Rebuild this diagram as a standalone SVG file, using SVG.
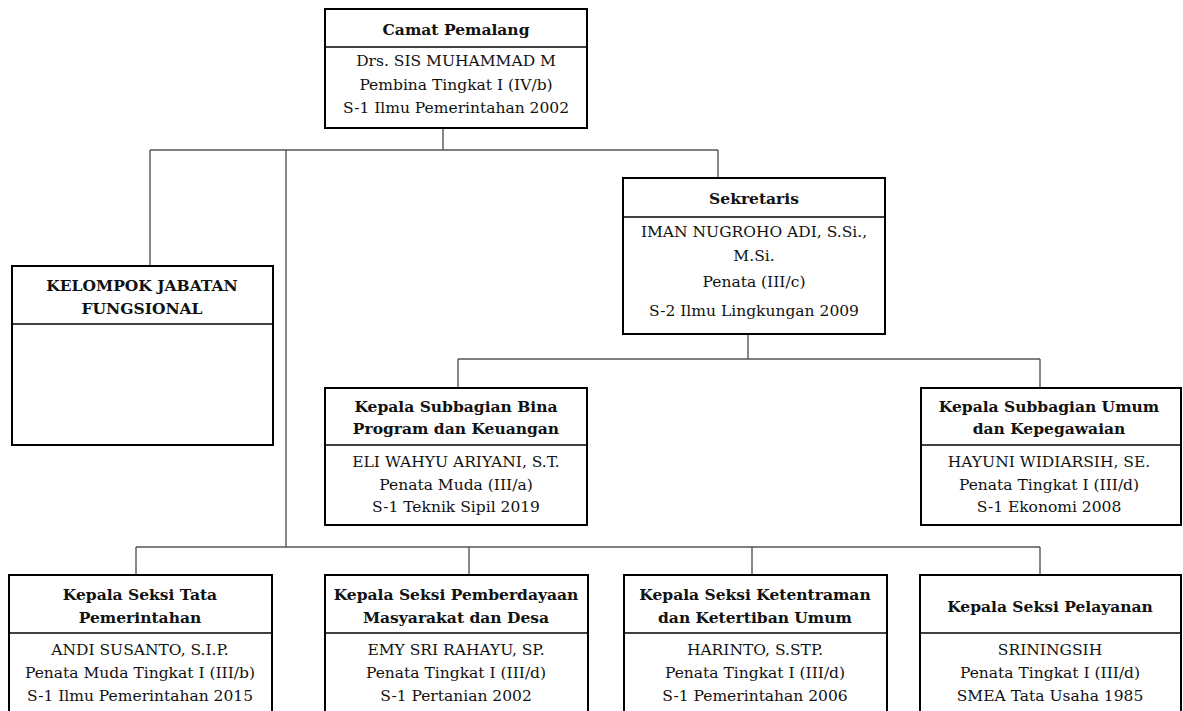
<svg xmlns="http://www.w3.org/2000/svg" width="1183" height="711" viewBox="0 0 1183 711">
<style>
.box{fill:#fff;stroke:#000;stroke-width:2}
.div{stroke:#000;stroke-width:1.5}
.con{fill:none;stroke:#555;stroke-width:1.4}
text{font-family:"DejaVu Serif","Liberation Serif",serif;font-size:15.5px;fill:#111;text-anchor:middle}
.t{font-weight:bold}
</style>
<rect width="1183" height="711" fill="#fff"/>
<g id="connectors">
<path class="con" d="M443,128V150M150,150H718M150,150V266M718,150V178M286,150V547"/>
<path class="con" d="M748,334V359M458,359H1040M458,359V388M1040,359V388"/>
<path class="con" d="M136,547H1040M136,547V575M469,547V575M752,547V575M1040,547V575"/>
</g>
<g id="camat">
<rect class="box" x="325" y="9" width="262" height="119"/>
<line class="div" x1="325" y1="47" x2="587" y2="47"/>
<text class="t" x="456" y="35">Camat Pemalang</text>
<text x="456" y="66">Drs. SIS MUHAMMAD M</text>
<text x="456" y="90">Pembina Tingkat I (IV/b)</text>
<text x="456" y="113">S-1 Ilmu Pemerintahan 2002</text>
</g>
<g id="kelompok">
<rect class="box" x="12" y="266" width="261" height="179"/>
<line class="div" x1="12" y1="324" x2="273" y2="324"/>
<text class="t" x="142" y="291">KELOMPOK JABATAN</text>
<text class="t" x="142" y="314">FUNGSIONAL</text>
</g>
<g id="sekretaris">
<rect class="box" x="623" y="178" width="262" height="156"/>
<line class="div" x1="623" y1="217" x2="885" y2="217"/>
<text class="t" x="754" y="204">Sekretaris</text>
<text x="754" y="237">IMAN NUGROHO ADI, S.Si.,</text>
<text x="754" y="261">M.Si.</text>
<text x="754" y="287">Penata (III/c)</text>
<text x="754" y="316">S-2 Ilmu Lingkungan 2009</text>
</g>
<g id="subbag-bina">
<rect class="box" x="325" y="388" width="262" height="137"/>
<line class="div" x1="325" y1="445" x2="587" y2="445"/>
<text class="t" x="456" y="412">Kepala Subbagian Bina</text>
<text class="t" x="456" y="434">Program dan Keuangan</text>
<text x="456" y="467">ELI WAHYU ARIYANI, S.T.</text>
<text x="456" y="490">Penata Muda (III/a)</text>
<text x="456" y="512">S-1 Teknik Sipil 2019</text>
</g>
<g id="subbag-umum">
<rect class="box" x="921" y="388" width="260" height="137"/>
<line class="div" x1="921" y1="445" x2="1181" y2="445"/>
<text class="t" x="1049" y="412">Kepala Subbagian Umum</text>
<text class="t" x="1049" y="434">dan Kepegawaian</text>
<text x="1049" y="467">HAYUNI WIDIARSIH, SE.</text>
<text x="1049" y="490">Penata Tingkat I (III/d)</text>
<text x="1049" y="512">S-1 Ekonomi 2008</text>
</g>
<g id="seksi-tapem">
<rect class="box" x="9" y="575" width="263" height="150"/>
<line class="div" x1="9" y1="633" x2="272" y2="633"/>
<text class="t" x="140" y="600">Kepala Seksi Tata</text>
<text class="t" x="140" y="623">Pemerintahan</text>
<text x="140" y="655">ANDI SUSANTO, S.I.P.</text>
<text x="140" y="678">Penata Muda Tingkat I (III/b)</text>
<text x="140" y="701">S-1 Ilmu Pemerintahan 2015</text>
</g>
<g id="seksi-pmd">
<rect class="box" x="325" y="575" width="263" height="150"/>
<line class="div" x1="325" y1="633" x2="588" y2="633"/>
<text class="t" x="456" y="600">Kepala Seksi Pemberdayaan</text>
<text class="t" x="456" y="623">Masyarakat dan Desa</text>
<text x="456" y="655">EMY SRI RAHAYU, SP.</text>
<text x="456" y="678">Penata Tingkat I (III/d)</text>
<text x="456" y="701">S-1 Pertanian 2002</text>
</g>
<g id="seksi-trantib">
<rect class="box" x="624" y="575" width="263" height="150"/>
<line class="div" x1="624" y1="633" x2="887" y2="633"/>
<text class="t" x="755" y="600">Kepala Seksi Ketentraman</text>
<text class="t" x="755" y="623">dan Ketertiban Umum</text>
<text x="755" y="655">HARINTO, S.STP.</text>
<text x="755" y="678">Penata Tingkat I (III/d)</text>
<text x="755" y="701">S-1 Pemerintahan 2006</text>
</g>
<g id="seksi-pelayanan">
<rect class="box" x="920" y="575" width="261" height="150"/>
<line class="div" x1="920" y1="633" x2="1181" y2="633"/>
<text class="t" x="1050" y="612">Kepala Seksi Pelayanan</text>
<text x="1050" y="655">SRININGSIH</text>
<text x="1050" y="678">Penata Tingkat I (III/d)</text>
<text x="1050" y="701">SMEA Tata Usaha 1985</text>
</g>
</svg>
